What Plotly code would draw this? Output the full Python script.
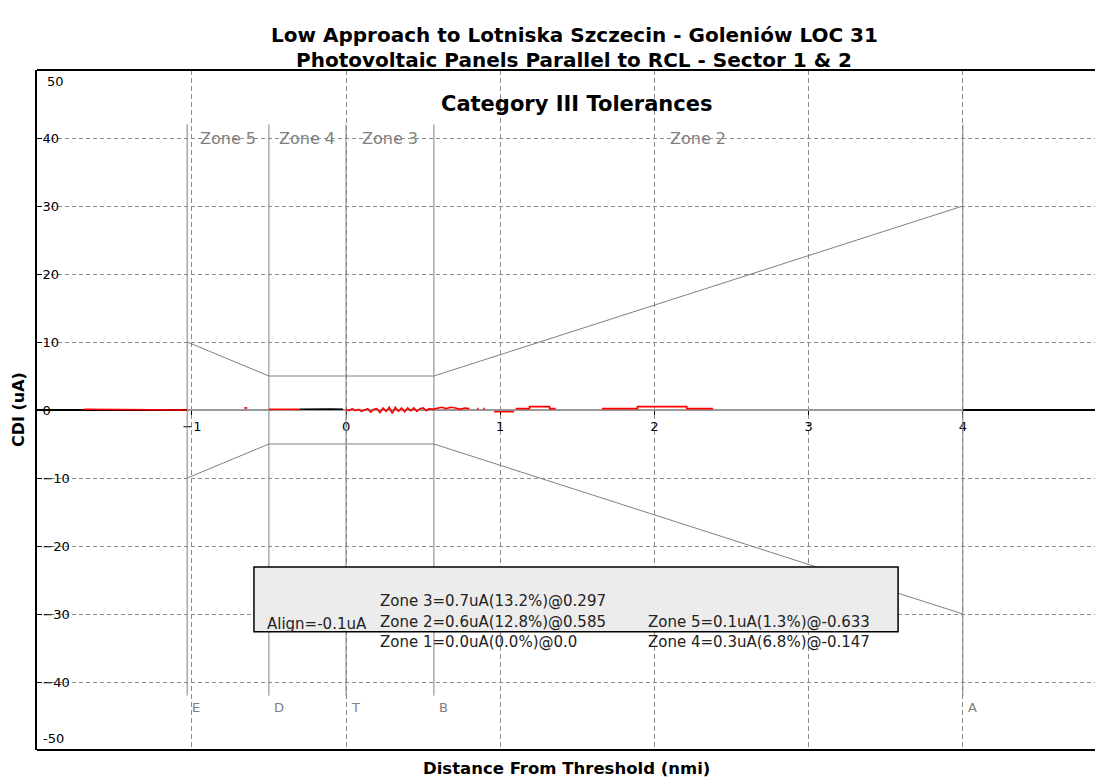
import plotly.graph_objects as go

# ---------------- text ----------------
title_lines = ["Low Approach to Lotniska Szczecin - Goleniów LOC 31",
               "Photovoltaic Panels Parallel to RCL - Sector 1 & 2"]
subtitle = "Category III Tolerances"
x_title = "Distance From Threshold (nmi)"
y_title = "CDI (uA)"

# ---------------- axes ----------------
x_tick_vals = [-1, 0, 1, 2, 3, 4]
y_tick_vals = [-40, -30, -20, -10, 0, 10, 20, 30, 40]
y_edge_labels = [50, -50]

# ---------------- zones / tolerance template ----------------
zone_points = ["E", "D", "T", "B", "A"]
zone_point_x = [-1.03, -0.5, 0.0, 0.57, 4.0]
zone_line_y = [-42, 42]
zone_names = ["Zone 5", "Zone 4", "Zone 3", "Zone 2"]
zone_name_y = 40

tol_x = [-1.03, -0.5, 0.57, 4.0]
tol_upper = [10, 5, 5, 30]
tol_lower = [-10, -5, -5, -30]

# ---------------- measured CDI (uA) ----------------
cdi_x = [-1.70, -1.60, -1.50, -1.40, -1.30, -1.20, -1.10, -1.03, None,
         -0.66, -0.64, None,
         -0.50, -0.42, -0.35, -0.30, None,
         0.00, 0.02, 0.04, 0.06, 0.08, 0.10, 0.12, 0.14, 0.16, 0.18, 0.20,
         0.22, 0.24, 0.26, 0.28, 0.30, 0.32, 0.34, 0.36, 0.38, 0.40, 0.42,
         0.44, 0.46, 0.48, 0.50, 0.52, 0.54, 0.56, 0.59, 0.62, 0.65, 0.68,
         0.71, 0.74, 0.77, 0.80, None,
         0.85, 0.86, None, 0.89, 0.90, None,
         0.96, 1.09, None,
         1.10, 1.19, 1.19, 1.32, 1.32, 1.36, None,
         1.66, 1.89, 1.89, 2.21, 2.21, 2.38]
cdi_y = [0.1, 0.1, 0.1, 0.0, 0.1, 0.0, 0.0, 0.0, None,
         0.3, 0.3, None,
         0.1, 0.1, 0.1, 0.1, None,
         0.1, -0.1, 0.2, -0.1, 0.1, -0.2, 0.0, 0.2, -0.3, 0.1, 0.2,
         -0.4, 0.3, -0.2, 0.4, -0.5, 0.4, -0.2, 0.3, -0.3, 0.3, -0.1,
         0.3, -0.2, 0.2, 0.3, -0.1, 0.2, 0.1, 0.2, 0.4, 0.2, 0.4,
         0.3, 0.1, 0.3, 0.2, None,
         0.2, 0.2, None, 0.2, 0.2, None,
         -0.25, -0.25, None,
         0.2, 0.2, 0.5, 0.5, 0.2, 0.2, None,
         0.2, 0.2, 0.5, 0.5, 0.2, 0.2]

cdi_black_x = [-0.30, -0.20, -0.10, -0.02]
cdi_black_y = [0.1, 0.15, 0.15, 0.1]

# ---------------- statistics box ----------------
stats_align = "Align=-0.1uA"
stats_col1 = ["Zone 3=0.7uA(13.2%)@0.297",
              "Zone 2=0.6uA(12.8%)@0.585",
              "Zone 1=0.0uA(0.0%)@0.0"]
stats_col2 = ["Zone 5=0.1uA(1.3%)@-0.633",
              "Zone 4=0.3uA(6.8%)@-0.147"]

FONT = "DejaVu Sans, Arial, sans-serif"
GREY = "#808080"
GRID = "#8c8c8c"

fig = go.Figure()

# zone boundary lines
zx, zy = [], []
for px in zone_point_x:
    zx += [px, px, None]
    zy += [zone_line_y[0], zone_line_y[1], None]
fig.add_trace(go.Scatter(x=zx, y=zy, mode="lines",
                         line=dict(color=GREY, width=1), hoverinfo="skip"))

# grey centre line between E and A
fig.add_trace(go.Scatter(x=[zone_point_x[0], zone_point_x[-1]], y=[0, 0],
                         mode="lines", line=dict(color="#9a9a9a", width=2),
                         hoverinfo="skip"))

# tolerance envelope
fig.add_trace(go.Scatter(x=tol_x, y=tol_upper, mode="lines",
                         line=dict(color=GREY, width=1), hoverinfo="skip"))
fig.add_trace(go.Scatter(x=tol_x, y=tol_lower, mode="lines",
                         line=dict(color=GREY, width=1), hoverinfo="skip"))

# measured data
fig.add_trace(go.Scatter(x=cdi_x, y=cdi_y, mode="lines",
                         line=dict(color="#ff0000", width=1.6), connectgaps=False))
fig.add_trace(go.Scatter(x=cdi_black_x, y=cdi_black_y, mode="lines",
                         line=dict(color="#000000", width=1.6)))

annotations = []
# titles
for txt, yy in zip(title_lines, [1.0515, 1.0140]):
    annotations.append(dict(text=txt, xref="paper", yref="paper",
                            x=0.504, y=yy, showarrow=False, xanchor="center",
                            yanchor="middle",
                            font=dict(family=FONT, size=20, color="black", weight="bold")))
annotations.append(dict(text=subtitle, x=1.5, y=45, showarrow=False, xanchor="center",
                        font=dict(family=FONT, size=21, color="black", weight="bold")))
annotations.append(dict(text=y_title, xref="paper", yref="paper", x=-0.0178, y=0.5,
                        textangle=-90, showarrow=False, xanchor="center",
                        yanchor="middle",
                        font=dict(family=FONT, size=16, color="black", weight="bold")))
annotations.append(dict(text=x_title, xref="paper", yref="paper", x=0.497, y=-0.0265,
                        showarrow=False, xanchor="center", yanchor="middle",
                        font=dict(family=FONT, size=16.5, color="black", weight="bold")))

# edge tick labels 50 / -50
for v in y_edge_labels:
    annotations.append(dict(text=str(v), xref="paper", x=0, y=v, showarrow=False,
                            xanchor="left", xshift=8 if v > 0 else 4,
                            yanchor="top" if v > 0 else "bottom",
                            yshift=-2 if v > 0 else 2,
                            font=dict(family=FONT, size=13, color="black")))

# zone names
for i, name in enumerate(zone_names):
    xm = (zone_point_x[i] + zone_point_x[i + 1]) / 2
    annotations.append(dict(text=name, x=xm, y=zone_name_y, showarrow=False,
                            xanchor="center",
                            font=dict(family=FONT, size=16, color=GREY)))
# zone point letters
for name, px in zip(zone_points, zone_point_x):
    annotations.append(dict(text=name, x=px, y=-43.8, showarrow=False,
                            xanchor="left", xshift=3,
                            font=dict(family=FONT, size=13, color=GREY)))

# statistics text
STAT_FONT = dict(family=FONT, size=15, color="#222")
annotations.append(dict(text=stats_align, x=-0.525, y=-31.5, showarrow=False,
                        xanchor="left", font=STAT_FONT))
for txt, yy in zip(stats_col1, [-28.1, -31.2, -34.1]):
    annotations.append(dict(text=txt, x=0.2075, y=yy, showarrow=False, xanchor="left",
                            font=STAT_FONT))
for txt, yy in zip(stats_col2, [-31.2, -34.1]):
    annotations.append(dict(text=txt, x=1.945, y=yy, showarrow=False, xanchor="left",
                            font=STAT_FONT))

shapes = [
    dict(type="rect", x0=-0.597, x1=3.58, y0=-32.6, y1=-23.1,
         fillcolor="#ececec", line=dict(color="black", width=1.5), layer="above"),
    dict(type="line", xref="paper", yref="paper", x0=0, x1=1, y0=1, y1=1,
         line=dict(color="black", width=2)),
    dict(type="line", xref="paper", yref="paper", x0=0, x1=1, y0=0, y1=0,
         line=dict(color="black", width=2)),
]

fig.update_layout(
    width=1095, height=770,
    margin=dict(l=29, r=0, t=62, b=28),
    paper_bgcolor="white", plot_bgcolor="white",
    showlegend=False,
    font=dict(family=FONT, size=13, color="black"),
    xaxis=dict(range=[-2.004, 4.909], tickvals=x_tick_vals,
               showgrid=True, gridcolor=GRID, griddash="5px,3px", gridwidth=1,
               zeroline=False, showline=True, linecolor="black", linewidth=2,
               anchor="free", position=0.5, ticks="outside", ticklen=4,
               tickcolor="black", tickfont=dict(size=13, color="black"),
               layer="below traces", fixedrange=True),
    yaxis=dict(range=[-50, 50], tickvals=y_tick_vals,
               showgrid=True, gridcolor=GRID, griddash="4px,3px", gridwidth=1,
               zeroline=False, showline=True, linecolor="black", linewidth=2,
               ticks="inside", ticklen=5, tickcolor="black",
               ticklabelposition="inside", tickfont=dict(size=13, color="black"),
               fixedrange=True),
    annotations=annotations,
    shapes=shapes,
)

fig.write_html("out.html")
